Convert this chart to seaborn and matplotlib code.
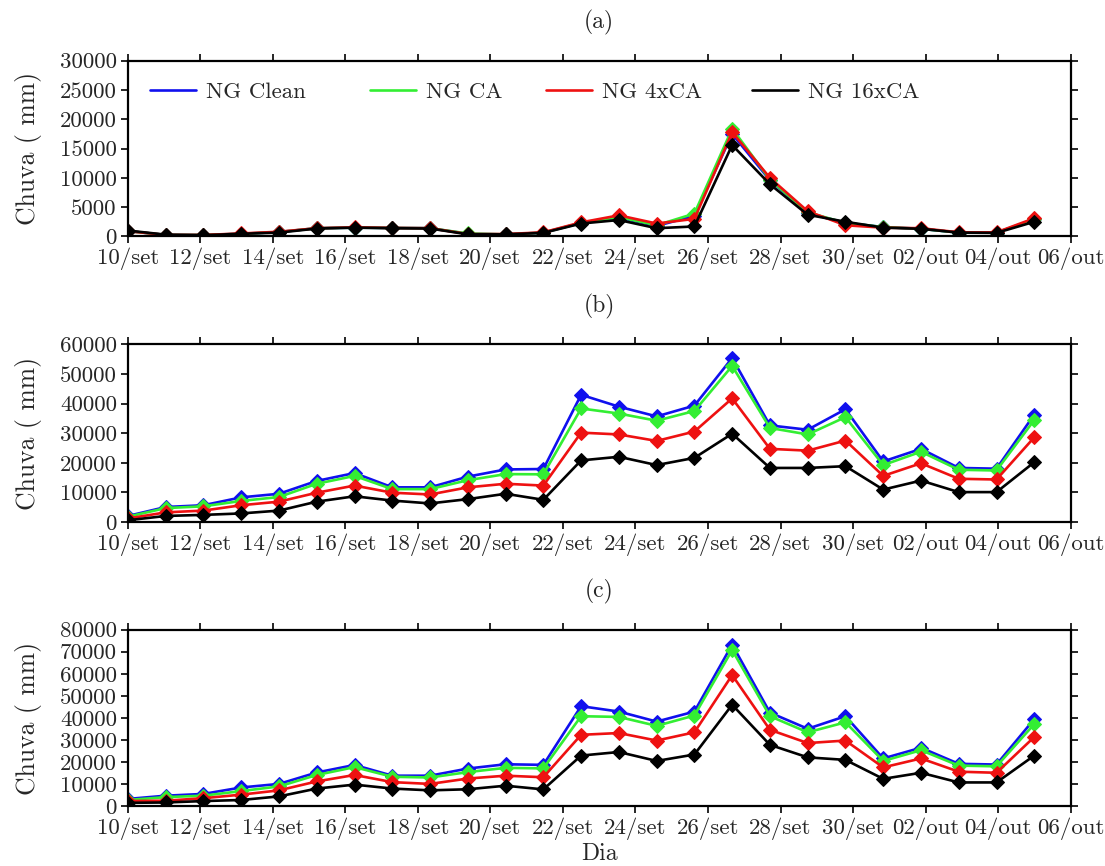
import numpy as np
import pandas as pd
import seaborn as sns
import matplotlib.pyplot as plt
from matplotlib.lines import Line2D

# x ticks (days from 10/set) and labels
tick_labels = ["10/set", "12/set", "14/set", "16/set", "18/set", "20/set", "22/set",
               "24/set", "26/set", "28/set", "30/set", "02/out", "04/out", "06/out"]
# 25 outputs spread over 25 days
dias = np.arange(25) * 25 / 24

series = ["NG Clean", "NG CA", "NG 4xCA", "NG 16xCA"]
cores = ["#1010ee", "#33ee33", "#ee1111", "#000000"]

# (a)
a_clean = [900, 250, 250, 450, 750, 1400, 1500, 1450, 1400, 450, 350, 650, 2300, 3200, 1800, 3500, 17500, 9600, 4000, 2300, 1600, 1300, 650, 650, 2900]
a_ca    = [900, 250, 250, 450, 750, 1400, 1500, 1450, 1400, 500, 350, 650, 2300, 3300, 1900, 3900, 18400, 9700, 4100, 2300, 1600, 1300, 650, 650, 2900]
a_4xca  = [900, 250, 250, 500, 800, 1400, 1550, 1450, 1400, 400, 400, 700, 2400, 3600, 2200, 3000, 17800, 10000, 4300, 1900, 1500, 1400, 700, 700, 3100]
a_16xca = [1000, 300, 200, 450, 650, 1350, 1500, 1400, 1350, 350, 350, 600, 2200, 2800, 1400, 1700, 15600, 8900, 3700, 2500, 1500, 1300, 650, 600, 2500]

# (b)
b_clean = [2050, 5070, 5670, 8330, 9540, 13880, 16540, 11710, 11710, 15330, 17750, 17900, 42960, 38950, 35660, 39310, 55380, 32620, 31160, 38090, 20450, 24710, 18260, 18010, 36270]
b_ca    = [1810, 4700, 5310, 7120, 8450, 12920, 15570, 11110, 11110, 14120, 16180, 16100, 38340, 36630, 34200, 37490, 52700, 31760, 29570, 35420, 19230, 23730, 17650, 17400, 34440]
b_4xca  = [1200, 3260, 3860, 5670, 6880, 9900, 12310, 9900, 9300, 11710, 12920, 12300, 30180, 29570, 27380, 30550, 41740, 24710, 24100, 27510, 15580, 19840, 14600, 14360, 28600]
b_16xca = [600, 2050, 2410, 2900, 3860, 6880, 8690, 7240, 6280, 7730, 9540, 7500, 20810, 22030, 19230, 21660, 29820, 18260, 18260, 18860, 10950, 14000, 10100, 10100, 20200]

# (c)
c_clean = [3390, 4850, 5660, 8570, 10180, 15350, 18750, 13900, 13900, 17130, 19070, 18800, 45340, 42910, 38380, 42910, 73200, 42430, 35140, 40810, 21700, 26560, 19270, 18950, 39510]
c_ca    = [2910, 4200, 4850, 6950, 9050, 14220, 17780, 13410, 13090, 15520, 17450, 17200, 40810, 40490, 36440, 41130, 70770, 40810, 33520, 38060, 20570, 25430, 18460, 18140, 37250]
c_4xca  = [2420, 2590, 3720, 5330, 7270, 11310, 14220, 10990, 10180, 12610, 13900, 13200, 32390, 33200, 29800, 33520, 59430, 34660, 28660, 29800, 17650, 21700, 15710, 15220, 31420]
c_16xca = [1620, 1780, 2420, 2910, 4530, 8080, 9860, 8080, 7270, 7760, 9370, 7700, 23000, 24620, 20570, 23480, 45990, 27850, 22190, 21050, 12470, 15220, 10850, 10850, 23000]

paineis = [
    ("(a)", [a_clean, a_ca, a_4xca, a_16xca], 30000, 5000),
    ("(b)", [b_clean, b_ca, b_4xca, b_16xca], 60000, 10000),
    ("(c)", [c_clean, c_ca, c_4xca, c_16xca], 80000, 10000),
]

sns.set_theme(style="ticks")
plt.rcParams['font.family'] = ['cmr10', 'DejaVu Serif']
plt.rcParams['axes.formatter.use_mathtext'] = True

fig = plt.figure(figsize=(11.05, 8.66), dpi=100)
posicoes = [[0.1158, 0.727, 0.853, 0.2029],
            [0.1158, 0.3972, 0.853, 0.2052],
            [0.1158, 0.0688, 0.853, 0.2042]]

for k, (titulo, dados, ymax, ystep) in enumerate(paineis):
    ax = fig.add_axes(posicoes[k])
    for nome, vals, cor in zip(series, dados, cores):
        df = pd.DataFrame({"dia": dias, "chuva": vals})
        sns.lineplot(data=df, x="dia", y="chuva", ax=ax, color=cor, linewidth=1.9,
                     marker="D", markersize=7.5, markeredgecolor=cor, legend=False)
    ax.set_xlim(0, 26)
    ax.set_ylim(0, ymax)
    ax.set_xticks(np.arange(0, 27, 2))
    ax.set_xticklabels(tick_labels)
    ax.set_yticks(np.arange(0, ymax + 1, ystep))
    ax.set_yticklabels([str(v) for v in np.arange(0, ymax + 1, ystep)])
    ax.tick_params(direction="out", length=5, width=1.4, labelsize=16.5,
                   top=True, right=True, labeltop=False, labelright=False, pad=3)
    for sp in ax.spines.values():
        sp.set_linewidth(1.6)
        sp.set_color("black")
    ax.set_title(titulo, fontsize=17, pad=23)
    ax.set_ylabel("Chuva ( mm)", fontsize=18.5, labelpad=13)
    ax.set_xlabel("Dia" if k == 2 else "", fontsize=17, labelpad=2)
    if k == 0:
        # one legend box per entry, spaced like the original
        legs = []
        for nome, cor, x0 in zip(series, cores, [0.0233, 0.2568, 0.4435, 0.662]):
            h = Line2D([], [], color=cor, linewidth=1.9)
            leg = ax.legend([h], [nome], frameon=False, fontsize=16.5,
                            loc="center left", bbox_to_anchor=(x0, 0.82),
                            borderaxespad=0, borderpad=0, handlelength=2.0,
                            handletextpad=0.45)
            legs.append(leg)
        # the last one stays as the axes legend, add the others as artists
        for leg in legs[:-1]:
            ax.add_artist(leg)

plt.savefig("out.png", dpi=100)
